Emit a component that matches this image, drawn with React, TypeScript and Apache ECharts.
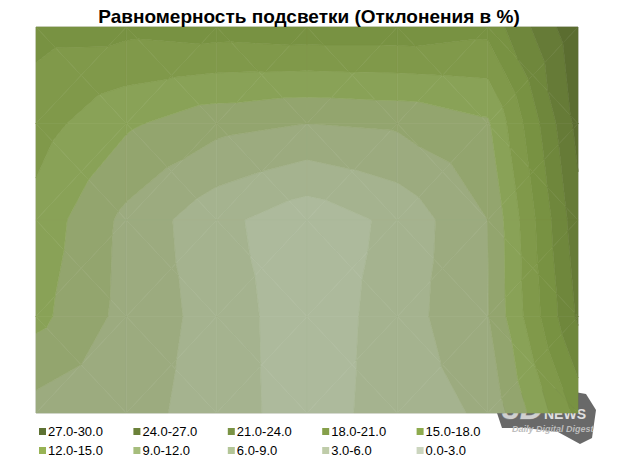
import React, { useEffect, useRef } from "react";
import * as echarts from "echarts";

const titleText = "Равномерность подсветки (Отклонения в %)";

// band labels, index 0 = lowest band
const bandLabels = [
  "0.0-3.0", "3.0-6.0", "6.0-9.0", "9.0-12.0", "12.0-15.0",
  "15.0-18.0", "18.0-21.0", "21.0-24.0", "24.0-27.0", "27.0-30.0",
];
const bandEdges = [0, 3, 6, 9, 12, 15, 18, 21, 24, 27, 30];

const legendColors = [
  "#cbd5be", "#bfcca9", "#b3c597", "#a6bd7c", "#98b355",
  "#8eab4e", "#86a04b", "#7a9345", "#6b8139", "#5e7233",
];
const fillColors = [
  "#adba9c", "#a5b38f", "#9cab7f", "#93a56e", "#89a257",
  "#80994a", "#789242", "#6f873c", "#667b37", "#5b6d30",
];

// measured deviation (%) at grid points, rows top -> bottom, columns left -> right
const row0 = [19.0, 18.9, 19.5, 20.0, 20.0, 19.0, 29.5];
const row1 = [16.3, 12.5, 10.0, 9.0, 9.5, 11.5, 28.0];
const row2 = [14.0, 8.2, 3.9, 1.0, 3.8, 9.0, 26.0];
const row3 = [12.9, 8.0, 4.8, 1.0, 4.5, 8.8, 24.5];
const row4 = [7.8, 7.3, 4.5, 1.5, 4.4, 6.5, 19.0];
const gridValues = [row0, row1, row2, row3, row4];

type P = [number, number, number];

function clip(poly: P[], level: number, keepAbove: boolean): P[] {
  const out: P[] = [];
  for (let i = 0; i < poly.length; i++) {
    const a = poly[i];
    const b = poly[(i + 1) % poly.length];
    const ina = keepAbove ? a[2] >= level : a[2] <= level;
    const inb = keepAbove ? b[2] >= level : b[2] <= level;
    if (ina) out.push(a);
    if (ina !== inb) {
      const t = (level - a[2]) / (b[2] - a[2]);
      out.push([a[0] + t * (b[0] - a[0]), a[1] + t * (b[1] - a[1]), level]);
    }
  }
  return out;
}

export default function App() {
  const ref = useRef<HTMLDivElement>(null);
  useEffect(() => {
    document.body.style.margin = "0";
    const chart = echarts.init(ref.current!, null, { renderer: "svg" });
    const nRows = gridValues.length;
    const nCols = gridValues[0].length;
    const cells: number[][] = [];
    for (let j = 0; j < nRows - 1; j++)
      for (let i = 0; i < nCols - 1; i++) cells.push([i, j]);

    const series = bandLabels.map((name, k) => ({
      name,
      type: "custom",
      coordinateSystem: "cartesian2d",
      encode: { x: 0, y: 1 },
      itemStyle: { color: legendColors[k] },
      silent: true,
      data: cells,
      renderItem: (params: any, api: any) => {
        const i = api.value(0);
        const j = api.value(1);
        const z00 = gridValues[j][i];
        const z10 = gridValues[j][i + 1];
        const z01 = gridValues[j + 1][i];
        const z11 = gridValues[j + 1][i + 1];
        const zc = (z00 + z10 + z01 + z11) / 4;
        const A: P = [i, j, z00];
        const B: P = [i + 1, j, z10];
        const C: P = [i + 1, j + 1, z11];
        const D: P = [i, j + 1, z01];
        const M: P = [i + 0.5, j + 0.5, zc];
        const tris: P[][] = [[A, B, M], [B, C, M], [C, D, M], [D, A, M]];
        const lo = k === 0 ? -1e9 : bandEdges[k];
        const hi = k === bandLabels.length - 1 ? 1e9 : bandEdges[k + 1];
        const children: any[] = [];
        for (const t of tris) {
          let p = clip(t, lo, true);
          if (p.length < 3) continue;
          p = clip(p, hi, false);
          if (p.length < 3) continue;
          children.push({
            type: "polygon",
            shape: { points: p.map((q) => api.coord([q[0], q[1]])) },
            style: { fill: fillColors[k], stroke: fillColors[k], lineWidth: 0.6 },
          });
        }
        return { type: "group", children };
      },
    }));

    // legend: 2 rows x 5 columns, highest band first
    const legendOrder = [9, 8, 7, 6, 5, 4, 3, 2, 1, 0];
    const legends = legendOrder.map((k, idx) => ({
      orient: "horizontal",
      left: 39 + (idx % 5) * 94.4,
      top: 425 + Math.floor(idx / 5) * 19,
      itemWidth: 7,
      itemHeight: 7,
      icon: "rect",
      selectedMode: false,
      padding: 0,
      textStyle: { fontSize: 13, fontFamily: "Liberation Sans, Arial", color: "#000", padding: [0, 0, 0, -3] },
      data: [bandLabels[k]],
    }));

    chart.setOption({
      animation: false,
      backgroundColor: "#ffffff",
      title: {
        text: titleText,
        left: "center",
        top: 2,
        textStyle: { fontSize: 19, fontWeight: "bold", fontFamily: "Liberation Sans, Arial", color: "#000" },
      },
      grid: {
        left: 36, top: 27, width: 542, height: 386,
        show: true, borderColor: "#cfcfcf", borderWidth: 1, backgroundColor: "transparent",
      },
      xAxis: { type: "value", min: 0, max: nCols - 1, show: false },
      yAxis: { type: "value", min: 0, max: nRows - 1, inverse: true, show: false },
      legend: legends,
      series,
      graphic: [
        {
          type: "group",
          left: 496,
          top: 388,
          children: [
            {
              type: "polygon",
              shape: { points: [[4, 22], [22, 6], [60, 0], [94, 6], [104, 22], [100, 50], [88, 56], [66, 44], [34, 40], [10, 40]] },
              style: { fill: "#444444", opacity: 0.8 },
            },
            { type: "text", x: 10, y: 4, style: { text: "3D", font: "italic bold 32px Liberation Sans", fill: "#d0d0d0", stroke: "#888", lineWidth: 1 } },
            { type: "text", x: 52, y: 19, style: { text: "NEWS", font: "bold 14px Liberation Sans", fill: "#e0e0e0" } },
            { type: "text", x: 20, y: 36, style: { text: "Daily Digital Digest", font: "italic bold 9px Liberation Sans", fill: "#bdbdbd" } },
          ],
        },
      ],
    });
    return () => chart.dispose();
  }, []);
  return <div ref={ref} style={{ width: 618, height: 463 }} />;
}
